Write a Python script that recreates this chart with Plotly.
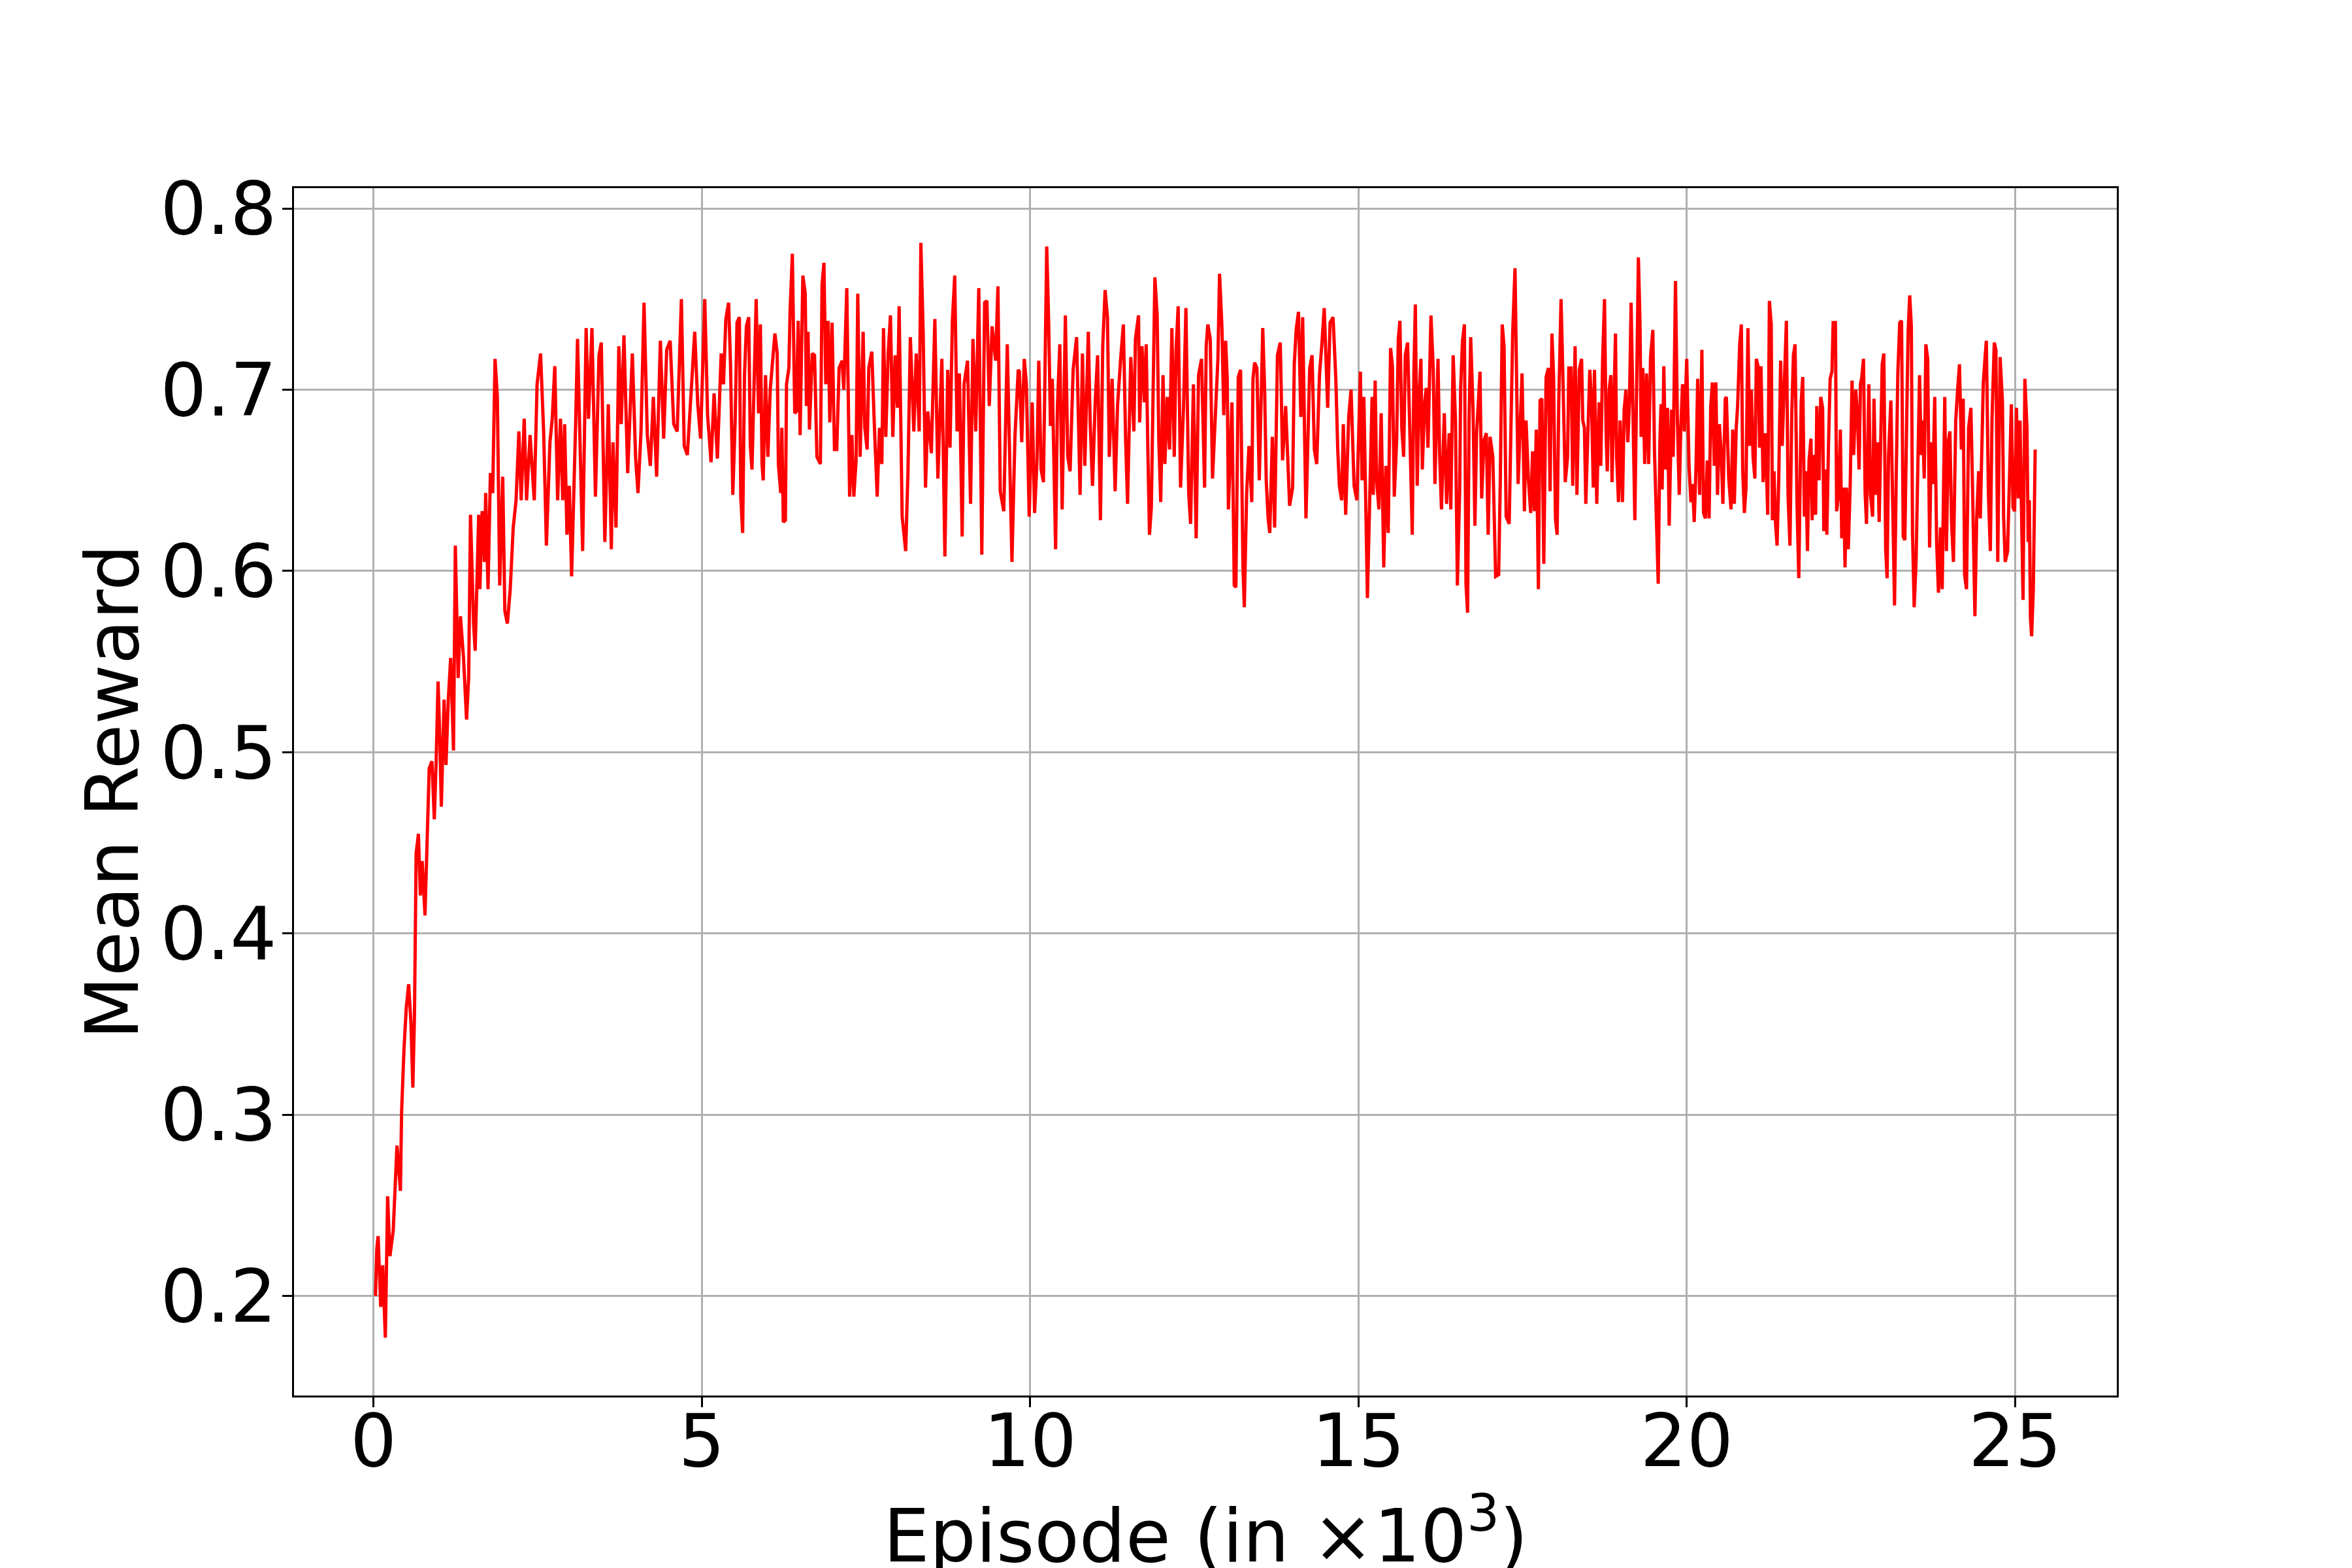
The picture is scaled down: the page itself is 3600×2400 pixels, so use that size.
import plotly.graph_objects as go

# mean reward per episode block (episode in thousands, reward)
ramp_0_5 = [
    (0.03, 0.200), (0.05, 0.226), (0.07, 0.233), (0.11, 0.194), (0.14, 0.217), (0.18, 0.177),
    (0.215, 0.255), (0.25, 0.222), (0.30, 0.236), (0.34, 0.264), (0.357, 0.283), (0.41, 0.258),
    (0.428, 0.302), (0.464, 0.336), (0.499, 0.359), (0.535, 0.372), (0.57, 0.351), (0.599, 0.315),
    (0.624, 0.355), (0.649, 0.444), (0.684, 0.455), (0.713, 0.421), (0.741, 0.440), (0.784, 0.410),
    (0.819, 0.450), (0.848, 0.491), (0.890, 0.495), (0.926, 0.463), (0.954, 0.495), (0.983, 0.539),
    (1.008, 0.510), (1.033, 0.470), (1.075, 0.529), (1.104, 0.493), (1.139, 0.529), (1.175, 0.552),
    (1.218, 0.501), (1.246, 0.614), (1.289, 0.541), (1.324, 0.575), (1.371, 0.552), (1.417, 0.518),
    (1.449, 0.541), (1.477, 0.631), (1.524, 0.571), (1.548, 0.556), (1.602, 0.631), (1.620, 0.590),
    (1.655, 0.633), (1.691, 0.605), (1.708, 0.643), (1.744, 0.590), (1.780, 0.654), (1.815, 0.643),
    (1.851, 0.717), (1.886, 0.696), (1.922, 0.592), (1.968, 0.652), (2.000, 0.578), (2.039, 0.571),
    (2.082, 0.590), (2.128, 0.624), (2.171, 0.639), (2.214, 0.677), (2.249, 0.639), (2.295, 0.684),
    (2.331, 0.639), (2.384, 0.675), (2.448, 0.639), (2.491, 0.703), (2.544, 0.720), (2.591, 0.677),
    (2.633, 0.614), (2.687, 0.671), (2.722, 0.684), (2.761, 0.713), (2.804, 0.639), (2.847, 0.684),
    (2.882, 0.639), (2.911, 0.681), (2.946, 0.620), (2.982, 0.647), (3.017, 0.597), (3.053, 0.639),
    (3.078, 0.681), (3.107, 0.728), (3.149, 0.669), (3.185, 0.611), (3.238, 0.734), (3.274, 0.684),
    (3.327, 0.734), (3.380, 0.641), (3.434, 0.719), (3.469, 0.726), (3.523, 0.616), (3.576, 0.692),
    (3.622, 0.612), (3.647, 0.671), (3.693, 0.624), (3.736, 0.724), (3.772, 0.681), (3.814, 0.730),
    (3.871, 0.654), (3.942, 0.720), (3.992, 0.662), (4.028, 0.643), (4.074, 0.677), (4.120, 0.748),
    (4.170, 0.675), (4.216, 0.658), (4.262, 0.696), (4.312, 0.652), (4.369, 0.727), (4.419, 0.673),
    (4.465, 0.722), (4.518, 0.727), (4.572, 0.681), (4.625, 0.677), (4.689, 0.750), (4.732, 0.669),
    (4.780, 0.664), (4.839, 0.700), (4.892, 0.732), (4.938, 0.692), (4.981, 0.673), (5.045, 0.750),
    (5.088, 0.686), (5.141, 0.660), (5.187, 0.698), (5.237, 0.662),
]

plateau_5_10 = [
    (5.295, 0.720), (5.330, 0.703), (5.366, 0.739), (5.408, 0.748), (5.437, 0.714), (5.472, 0.642),
    (5.508, 0.683), (5.536, 0.737), (5.572, 0.740), (5.593, 0.641), (5.622, 0.621), (5.650, 0.708),
    (5.679, 0.735), (5.714, 0.740), (5.739, 0.669), (5.764, 0.656), (5.800, 0.714), (5.828, 0.750),
    (5.864, 0.687), (5.892, 0.736), (5.917, 0.659), (5.935, 0.650), (5.970, 0.708), (6.006, 0.663),
    (6.042, 0.700), (6.084, 0.716), (6.113, 0.731), (6.148, 0.720), (6.166, 0.659), (6.202, 0.643),
    (6.219, 0.679), (6.241, 0.627), (6.273, 0.628), (6.290, 0.703), (6.326, 0.712), (6.344, 0.743),
    (6.379, 0.775), (6.415, 0.687), (6.440, 0.688), (6.468, 0.738), (6.497, 0.675), (6.539, 0.763),
    (6.575, 0.753), (6.593, 0.691), (6.618, 0.732), (6.639, 0.678), (6.682, 0.720), (6.717, 0.719),
    (6.753, 0.663), (6.806, 0.659), (6.831, 0.758), (6.860, 0.770), (6.888, 0.703), (6.924, 0.738),
    (6.949, 0.682), (6.984, 0.737), (7.020, 0.667), (7.055, 0.667), (7.091, 0.712), (7.137, 0.716),
    (7.162, 0.700), (7.208, 0.756), (7.251, 0.641), (7.286, 0.675), (7.315, 0.641), (7.350, 0.661),
    (7.375, 0.753), (7.411, 0.663), (7.457, 0.732), (7.482, 0.679), (7.518, 0.667), (7.543, 0.712),
    (7.589, 0.721), (7.625, 0.683), (7.671, 0.641), (7.706, 0.679), (7.742, 0.659), (7.767, 0.734),
    (7.802, 0.674), (7.838, 0.720), (7.873, 0.741), (7.909, 0.674), (7.945, 0.719), (7.980, 0.690),
    (8.005, 0.746), (8.051, 0.630), (8.105, 0.611), (8.140, 0.655), (8.176, 0.729), (8.229, 0.677),
    (8.265, 0.720), (8.311, 0.677), (8.336, 0.781), (8.371, 0.732), (8.407, 0.646), (8.442, 0.688),
    (8.496, 0.665), (8.549, 0.739), (8.595, 0.651), (8.656, 0.717), (8.702, 0.608), (8.745, 0.711),
    (8.780, 0.668), (8.816, 0.738), (8.852, 0.763), (8.887, 0.677), (8.923, 0.709), (8.965, 0.619),
    (8.994, 0.703), (9.047, 0.716), (9.093, 0.637), (9.129, 0.728), (9.172, 0.677), (9.218, 0.756),
    (9.264, 0.609), (9.307, 0.748), (9.342, 0.749), (9.378, 0.691), (9.421, 0.735), (9.474, 0.716),
    (9.510, 0.757), (9.545, 0.644), (9.599, 0.633), (9.652, 0.725), (9.677, 0.683), (9.723, 0.605),
    (9.769, 0.674), (9.819, 0.711),
]

plateau_10_15 = [
    (9.837, 0.710), (9.872, 0.671), (9.911, 0.717), (9.943, 0.703), (9.986, 0.630), (10.032, 0.693),
    (10.068, 0.632), (10.103, 0.659), (10.132, 0.716), (10.167, 0.656), (10.203, 0.649), (10.228, 0.706),
    (10.253, 0.779), (10.281, 0.740), (10.310, 0.680), (10.338, 0.706), (10.370, 0.626), (10.388, 0.612),
    (10.416, 0.691), (10.452, 0.725), (10.488, 0.634), (10.512, 0.693), (10.537, 0.741), (10.573, 0.663),
    (10.609, 0.655), (10.655, 0.711), (10.708, 0.729), (10.761, 0.642), (10.797, 0.720), (10.833, 0.658),
    (10.886, 0.732), (10.914, 0.683), (10.950, 0.647), (10.993, 0.695), (11.028, 0.719), (11.071, 0.628),
    (11.106, 0.724), (11.142, 0.755), (11.178, 0.740), (11.206, 0.663), (11.249, 0.706), (11.295, 0.644),
    (11.331, 0.691), (11.377, 0.716), (11.420, 0.736), (11.455, 0.672), (11.484, 0.637), (11.533, 0.718),
    (11.580, 0.677), (11.604, 0.728), (11.651, 0.741), (11.668, 0.682), (11.704, 0.724), (11.740, 0.693),
    (11.768, 0.725), (11.793, 0.667), (11.818, 0.620), (11.846, 0.635), (11.875, 0.716), (11.900, 0.762),
    (11.935, 0.741), (11.960, 0.672), (11.989, 0.638), (12.024, 0.708), (12.053, 0.659), (12.088, 0.696),
    (12.124, 0.667), (12.159, 0.734), (12.195, 0.663), (12.223, 0.722), (12.255, 0.746), (12.291, 0.646),
    (12.337, 0.691), (12.373, 0.745), (12.415, 0.643), (12.444, 0.626), (12.487, 0.703), (12.529, 0.618),
    (12.565, 0.708), (12.611, 0.717), (12.657, 0.646), (12.682, 0.724), (12.707, 0.736), (12.743, 0.728),
    (12.778, 0.651), (12.825, 0.689), (12.860, 0.717), (12.885, 0.764), (12.921, 0.735), (12.949, 0.686),
    (12.978, 0.727), (13.002, 0.706), (13.020, 0.634), (13.074, 0.693), (13.109, 0.592), (13.134, 0.591),
    (13.170, 0.707), (13.205, 0.711), (13.241, 0.603), (13.262, 0.580), (13.298, 0.643), (13.333, 0.669),
    (13.376, 0.638), (13.394, 0.706), (13.419, 0.715), (13.454, 0.712), (13.490, 0.650), (13.543, 0.734),
    (13.572, 0.700), (13.596, 0.650), (13.625, 0.629), (13.650, 0.621), (13.689, 0.674), (13.724, 0.624),
    (13.767, 0.719), (13.810, 0.726), (13.845, 0.661), (13.892, 0.691), (13.952, 0.636), (13.998, 0.646),
    (14.023, 0.714), (14.052, 0.733), (14.087, 0.743), (14.123, 0.685), (14.151, 0.740), (14.201, 0.629),
    (14.230, 0.671), (14.258, 0.712), (14.294, 0.719), (14.329, 0.667), (14.365, 0.659), (14.407, 0.708),
    (14.443, 0.725), (14.479, 0.745), (14.532, 0.690), (14.568, 0.737), (14.614, 0.740), (14.656, 0.706),
    (14.685, 0.667), (14.710, 0.647), (14.745, 0.639), (14.770, 0.681), (14.806, 0.631), (14.852, 0.685),
    (14.888, 0.700), (14.934, 0.647), (14.977, 0.639), (15.030, 0.710), (15.055, 0.650), (15.083, 0.696),
    (15.137, 0.585), (15.172, 0.651), (15.208, 0.696),
]

plateau_15_20 = [
    (15.226, 0.642), (15.255, 0.705), (15.276, 0.651), (15.312, 0.634), (15.347, 0.687), (15.386, 0.602),
    (15.418, 0.658), (15.454, 0.621), (15.490, 0.723), (15.518, 0.713), (15.546, 0.641), (15.582, 0.672),
    (15.607, 0.728), (15.632, 0.738), (15.660, 0.679), (15.689, 0.663), (15.714, 0.719), (15.749, 0.726),
    (15.785, 0.674), (15.820, 0.620), (15.845, 0.709), (15.867, 0.747), (15.895, 0.647), (15.927, 0.700),
    (15.952, 0.717), (15.973, 0.656), (16.009, 0.693), (16.034, 0.701), (16.059, 0.668), (16.080, 0.712),
    (16.105, 0.741), (16.140, 0.711), (16.165, 0.648), (16.212, 0.717), (16.237, 0.664), (16.265, 0.634),
    (16.308, 0.687), (16.343, 0.637), (16.382, 0.676), (16.407, 0.634), (16.443, 0.719), (16.478, 0.683),
    (16.507, 0.592), (16.542, 0.644), (16.557, 0.701), (16.585, 0.727), (16.614, 0.736), (16.638, 0.593),
    (16.663, 0.577), (16.685, 0.683), (16.710, 0.729), (16.745, 0.690), (16.774, 0.625), (16.799, 0.675),
    (16.827, 0.695), (16.852, 0.710), (16.877, 0.640), (16.912, 0.672), (16.948, 0.676), (16.976, 0.620),
    (17.005, 0.674), (17.047, 0.663), (17.090, 0.597), (17.136, 0.598), (17.161, 0.651), (17.190, 0.736),
    (17.218, 0.724), (17.250, 0.630), (17.296, 0.626), (17.325, 0.696), (17.350, 0.732), (17.385, 0.767),
    (17.403, 0.719), (17.432, 0.648), (17.467, 0.683), (17.492, 0.709), (17.528, 0.633), (17.553, 0.683),
    (17.588, 0.651), (17.624, 0.632), (17.652, 0.666), (17.681, 0.633), (17.709, 0.678), (17.741, 0.590),
    (17.766, 0.694), (17.794, 0.695), (17.823, 0.604), (17.858, 0.707), (17.894, 0.712), (17.919, 0.644),
    (17.947, 0.731), (17.972, 0.708), (18.001, 0.629), (18.026, 0.620), (18.051, 0.693), (18.086, 0.750),
    (18.115, 0.706), (18.150, 0.649), (18.186, 0.663), (18.204, 0.712), (18.239, 0.712), (18.264, 0.647),
    (18.300, 0.724), (18.328, 0.642), (18.364, 0.711), (18.399, 0.717), (18.417, 0.683), (18.442, 0.679),
    (18.463, 0.637), (18.499, 0.683), (18.524, 0.711), (18.549, 0.695), (18.577, 0.646), (18.595, 0.711),
    (18.630, 0.637), (18.666, 0.693), (18.691, 0.658), (18.719, 0.716), (18.748, 0.750), (18.773, 0.674),
    (18.790, 0.655), (18.819, 0.700), (18.844, 0.708), (18.862, 0.649), (18.897, 0.696), (18.915, 0.731),
    (18.933, 0.663), (18.961, 0.638), (18.986, 0.683), (19.022, 0.638), (19.047, 0.689), (19.075, 0.700),
    (19.103, 0.671), (19.128, 0.693), (19.153, 0.748), (19.182, 0.672), (19.210, 0.628), (19.235, 0.696),
    (19.264, 0.773), (19.288, 0.738), (19.306, 0.674), (19.331, 0.712), (19.360, 0.659), (19.388, 0.709),
    (19.420, 0.659), (19.449, 0.718), (19.484, 0.733), (19.509, 0.666), (19.537, 0.627), (19.566, 0.593),
    (19.591, 0.672), (19.609, 0.692), (19.626, 0.645), (19.651, 0.713), (19.680, 0.656), (19.708, 0.690),
    (19.733, 0.625), (19.769, 0.689), (19.794, 0.663), (19.829, 0.760), (19.858, 0.683), (19.886, 0.642),
    (19.911, 0.680), (19.936, 0.703), (19.964, 0.677), (20.000, 0.717), (20.035, 0.658), (20.064, 0.638),
    (20.089, 0.648), (20.114, 0.627), (20.142, 0.658), (20.167, 0.706), (20.196, 0.642), (20.231, 0.722),
    (20.256, 0.632), (20.284, 0.629), (20.313, 0.661), (20.341, 0.629), (20.366, 0.691), (20.391, 0.704),
    (20.420, 0.658), (20.444, 0.704), (20.469, 0.642), (20.498, 0.681), (20.526, 0.664), (20.551, 0.637),
    (20.587, 0.695),
]

plateau_20_25 = [
    (20.604, 0.696), (20.640, 0.651), (20.675, 0.634), (20.700, 0.678), (20.725, 0.637), (20.754, 0.679),
    (20.775, 0.691), (20.807, 0.725), (20.832, 0.736), (20.853, 0.655), (20.878, 0.632), (20.903, 0.646),
    (20.932, 0.734), (20.960, 0.669), (20.985, 0.700), (21.010, 0.663), (21.038, 0.651), (21.060, 0.717),
    (21.092, 0.712), (21.109, 0.668), (21.131, 0.713), (21.163, 0.649), (21.198, 0.676), (21.234, 0.631),
    (21.259, 0.749), (21.287, 0.736), (21.305, 0.628), (21.330, 0.655), (21.351, 0.627), (21.376, 0.614),
    (21.401, 0.650), (21.430, 0.716), (21.454, 0.669), (21.483, 0.700), (21.518, 0.738), (21.543, 0.642),
    (21.572, 0.614), (21.600, 0.687), (21.625, 0.719), (21.650, 0.725), (21.679, 0.638), (21.707, 0.596),
    (21.743, 0.693), (21.767, 0.707), (21.792, 0.630), (21.814, 0.655), (21.839, 0.611), (21.863, 0.661),
    (21.892, 0.673), (21.910, 0.628), (21.935, 0.664), (21.963, 0.631), (21.981, 0.691), (22.016, 0.650),
    (22.041, 0.696), (22.070, 0.690), (22.088, 0.622), (22.112, 0.656), (22.134, 0.620), (22.159, 0.669),
    (22.184, 0.706), (22.212, 0.710), (22.230, 0.737), (22.265, 0.737), (22.283, 0.633), (22.312, 0.642),
    (22.340, 0.678), (22.361, 0.618), (22.390, 0.646), (22.411, 0.602), (22.433, 0.646), (22.461, 0.612),
    (22.490, 0.648), (22.518, 0.705), (22.543, 0.664), (22.575, 0.700), (22.603, 0.683), (22.625, 0.656),
    (22.646, 0.703), (22.667, 0.707), (22.692, 0.717), (22.717, 0.643), (22.738, 0.626), (22.774, 0.703),
    (22.799, 0.642), (22.831, 0.630), (22.852, 0.695), (22.881, 0.642), (22.906, 0.671), (22.931, 0.627),
    (22.959, 0.669), (22.977, 0.714), (23.002, 0.720), (23.030, 0.612), (23.052, 0.596), (23.073, 0.663),
    (23.109, 0.694), (23.144, 0.608), (23.165, 0.581), (23.190, 0.651), (23.215, 0.709), (23.244, 0.737),
    (23.272, 0.738), (23.297, 0.619), (23.322, 0.617), (23.350, 0.683), (23.372, 0.732), (23.396, 0.752),
    (23.421, 0.735), (23.439, 0.621), (23.464, 0.580), (23.493, 0.605), (23.521, 0.667), (23.546, 0.708),
    (23.571, 0.664), (23.592, 0.683), (23.617, 0.651), (23.642, 0.725), (23.670, 0.717), (23.699, 0.613),
    (23.724, 0.671), (23.749, 0.648), (23.777, 0.696), (23.806, 0.616), (23.834, 0.588), (23.866, 0.624),
    (23.891, 0.590), (23.912, 0.667), (23.930, 0.696), (23.955, 0.611), (23.983, 0.671), (24.008, 0.677),
    (24.033, 0.627), (24.062, 0.605), (24.097, 0.683), (24.126, 0.700), (24.154, 0.714), (24.183, 0.667),
    (24.211, 0.695), (24.232, 0.598), (24.261, 0.590), (24.293, 0.679), (24.328, 0.690), (24.353, 0.646),
    (24.389, 0.575), (24.417, 0.630), (24.446, 0.655), (24.471, 0.629), (24.489, 0.667), (24.517, 0.704),
    (24.542, 0.717), (24.563, 0.727), (24.595, 0.642), (24.624, 0.611), (24.649, 0.683), (24.684, 0.726),
    (24.709, 0.722), (24.737, 0.605), (24.773, 0.718), (24.809, 0.693), (24.826, 0.630), (24.851, 0.605),
    (24.887, 0.611), (24.915, 0.656), (24.944, 0.692), (24.969, 0.635), (24.994, 0.633), (25.022, 0.690),
    (25.051, 0.640), (25.076, 0.683), (25.100, 0.627), (25.122, 0.584), (25.150, 0.706), (25.182, 0.679),
    (25.200, 0.616), (25.218, 0.639), (25.235, 0.574), (25.253, 0.564), (25.278, 0.589), (25.307, 0.667),
]

x_ticks = [0, 5, 10, 15, 20, 25]
y_ticks = [0.2, 0.3, 0.4, 0.5, 0.6, 0.7, 0.8]
y_tick_text = ['0.2', '0.3', '0.4', '0.5', '0.6', '0.7', '0.8']

curve = ramp_0_5 + plateau_5_10 + plateau_10_15 + plateau_15_20 + plateau_20_25
episodes = [p[0] for p in curve]
rewards = [p[1] for p in curve]

font = dict(family='DejaVu Sans', size=112, color='black')

fig = go.Figure(go.Scatter(x=episodes, y=rewards, mode='lines',
                           line=dict(color='#ff0000', width=5), showlegend=False))

axis_style = dict(showline=True, linecolor='black', linewidth=3.3, mirror=True,
                  ticks='outside', ticklen=15, tickwidth=3.3, tickcolor='black',
                  showgrid=True, gridcolor='#b0b0b0', gridwidth=2.6,
                  zeroline=False, tickfont=font, automargin=False)

fig.update_xaxes(range=[-1.211, 26.55], tickvals=x_ticks, ticklabelstandoff=-45, **axis_style)
fig.update_yaxes(range=[0.1451, 0.8112], tickvals=y_ticks, ticktext=y_tick_text,
                 ticklabelstandoff=-14, **axis_style)

# the page body adds an 8px offset, so the margins are shifted by that much
fig.update_layout(
    template='none',
    width=3600, height=2400,
    margin=dict(l=442, r=368, t=280, b=272, pad=0, autoexpand=False),
    paper_bgcolor='white', plot_bgcolor='white',
    font=font,
    annotations=[
        dict(text='Episode (in ×10<sup>3</sup>)', xref='paper', yref='paper',
             x=0.5, y=-0.0714, xanchor='center', yanchor='top', showarrow=False, font=font),
        dict(text='Mean Reward', xref='paper', yref='paper', textangle=-90,
             x=-0.0996, y=0.5, xanchor='center', yanchor='middle', showarrow=False, font=font),
    ],
)

fig.write_html("out.html")
